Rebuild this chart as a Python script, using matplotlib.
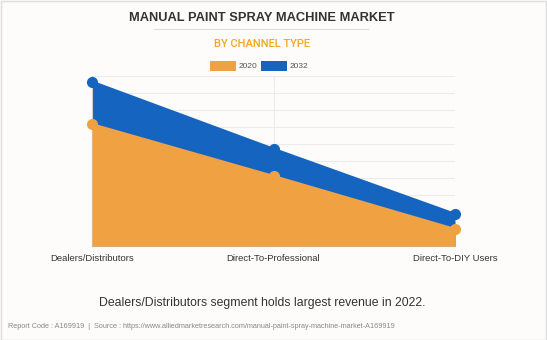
import matplotlib
matplotlib.use("Agg")
import matplotlib.pyplot as plt
from matplotlib.patches import Rectangle
from matplotlib.lines import Line2D

categories = ["Dealers/Distributors", "Direct-To-Professional", "Direct-To-DIY Users"]
values_2020 = [7.15, 4.1, 0.98]
values_2032 = [9.65, 5.7, 1.87]
series_names = ["2020", "2032"]

ORANGE = "#F0A243"
BLUE = "#1565C0"

W, H = 547, 340
fig = plt.figure(figsize=(W / 100, H / 100), dpi=100)
fig.patch.set_facecolor("#FDFCFB")
plt.rcParams['font.family'] = ['Liberation Sans', 'DejaVu Sans']

# figure border
fig.add_artist(Rectangle((0.5 / W, 0.5 / H), 1 - 1.5 / W, 1 - 1.5 / H, transform=fig.transFigure,
                         fill=False, edgecolor="#DDDDDD", linewidth=1))

left, right, top, bottom = 92, 455, 76, 246
ax = fig.add_axes([left / W, 1 - bottom / H, (right - left) / W, (bottom - top) / H])
ax.set_facecolor("#FDFCFB")
x = list(range(len(categories)))

ax.fill_between(x, 0, values_2032, color=BLUE, linewidth=0, zorder=2)
ax.plot(x, values_2032, color=BLUE, linewidth=2, marker="o", markersize=7, clip_on=False, zorder=3)
ax.fill_between(x, 0, values_2020, color=ORANGE, linewidth=0, zorder=4)
ax.plot(x, values_2020, color=ORANGE, linewidth=2, marker="o", markersize=7, clip_on=False, zorder=5)

ax.set_xlim(0, len(categories) - 1)
ax.set_ylim(0, 10)
ax.set_yticks(range(0, 11))
ax.set_yticklabels([])
ax.tick_params(axis="y", length=0)
ax.set_xticks(x)
ax.set_xticklabels(categories, fontsize=6.8, color="#333333")
ax.tick_params(axis="x", length=0, pad=6)
ax.grid(True, color="#EBEBEB", linewidth=0.8, zorder=0)
ax.set_axisbelow(True)
for s in ["top", "right"]:
    ax.spines[s].set_visible(False)
ax.spines["left"].set_color("#CCCCCC")
ax.spines["bottom"].set_color("#BBBBBB")
ax.spines["left"].set_linewidth(0.8)
ax.spines["bottom"].set_linewidth(0.8)

# titles
fig.text(262 / W, 1 - 18 / H, "MANUAL PAINT SPRAY MACHINE MARKET", ha="center", va="center",
         fontsize=9.3, fontweight="bold", color="#333333")
fig.add_artist(Line2D([154 / W, 368 / W], [1 - 28.7 / H, 1 - 28.7 / H], transform=fig.transFigure,
                      color="#DDDDDD", linewidth=0.8))
fig.text(262 / W, 1 - 44 / H, "BY CHANNEL TYPE", ha="center", va="center",
         fontsize=8, fontweight="medium", color="#F5A623", family=["Roboto", "DejaVu Sans"])

# legend
for i, (name, col) in enumerate(zip(series_names, [ORANGE, BLUE])):
    x0 = 210 + i * 51
    fig.add_artist(Rectangle((x0 / W, 1 - 71 / H), 26 / W, 10 / H, transform=fig.transFigure,
                             facecolor=col, edgecolor="none"))
    fig.text((x0 + 29) / W, 1 - 66 / H, name, ha="left", va="center", fontsize=6, color="#555555")

fig.text(262 / W, 1 - 303 / H, "Dealers/Distributors segment holds largest revenue in 2022.",
         ha="center", va="center", fontsize=8.8, color="#333333")
fig.text(8 / W, 1 - 326 / H,
         "Report Code : A169919  |  Source : https://www.alliedmarketresearch.com/manual-paint-spray-machine-market-A169919",
         ha="left", va="center", fontsize=5.2, color="#888888")

fig.savefig("out.png", dpi=100, facecolor=fig.get_facecolor())
